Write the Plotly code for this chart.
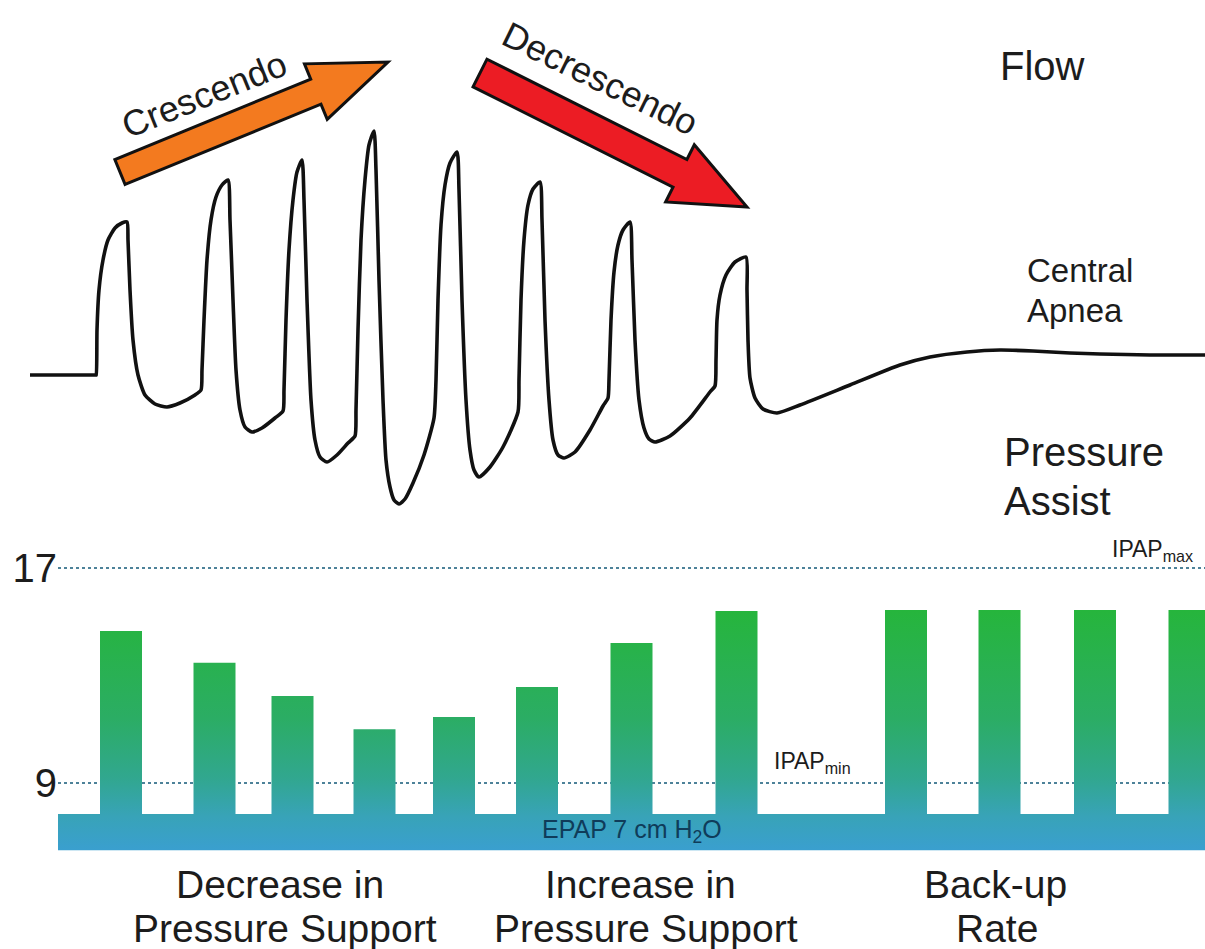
import math
import plotly.graph_objects as go

# ---------------- data ----------------
# Flow waveform (time and flow in arbitrary units, baseline = 0)
flow_time = [30, 96, 96.3,
             97, 99, 103, 108, 115, 122, 127, 128, 130, 133, 138, 145, 155, 167, 180, 195, 201,
             202, 204, 207, 211, 216, 222, 228, 230, 233, 236, 240, 245, 252, 262, 275, 283,
             284, 286, 289, 293, 297, 302, 304, 307, 311, 315, 320, 327, 337, 348, 355,
             356, 358, 361, 365, 369, 374, 376, 379, 383, 386, 390, 394, 399, 405, 413, 424, 434,
             436, 438, 441, 445, 450, 457, 459, 462, 466, 470, 474, 479, 490, 503, 518,
             519, 521, 524, 528, 533, 540, 542, 545, 549, 553, 558, 564, 575, 590, 603, 608,
             609, 611, 614, 618, 623, 630, 632, 635, 639, 644, 649, 655, 670, 690, 710, 715,
             716, 717, 720, 726, 735, 746, 747, 748, 750, 755, 763, 777,
             800, 850, 900, 930, 967, 1000, 1033, 1070, 1100, 1150, 1205]
flow_value = [0, 0, 0,
              45, 85, 115, 135, 147, 152, 153, 135, 85, 35, 0, -20, -29, -32, -28, -20, -15,
              5, 55, 115, 155, 178, 190, 195, 155, 75, 5, -35, -52, -57, -53, -43, -36,
              -15, 55, 125, 175, 203, 215, 175, 75, -25, -65, -82, -87, -80, -68, -61,
              -35, 45, 135, 195, 230, 244, 205, 95, -25, -85, -112, -125, -129, -124, -108, -80, -43,
              -5, 75, 150, 190, 212, 223, 185, 75, -25, -75, -95, -102, -92, -72, -37,
              -5, 75, 135, 170, 186, 193, 155, 55, -25, -65, -80, -83, -77, -55, -31, -23,
              -5, 55, 103, 130, 145, 153, 115, 35, -25, -53, -64, -67, -61, -43, -17, -11,
              15, 55, 80, 100, 113, 118, 85, 35, -3, -23, -34, -38,
              -30, -10, 10, 18, 23, 25, 24, 22, 21, 20, 20]

# Pressure assist (cm H2O) per breath
breath_time = [121, 214.5, 292.5, 374.5, 454, 537, 631.5, 736.5, 906, 999.5, 1095, 1189.5]
ipap_value = [14.66, 13.47, 12.24, 11.0, 11.46, 12.57, 14.21, 15.4, 15.44, 15.44, 15.44, 15.44]
epap_band = [6.5, 7.85]          # EPAP band (bottom, top)
ipap_limits = [9, 17]            # IPAPmin, IPAPmax
ipap_labels = ["9", "17"]
time_span = [58, 1212]           # start / end of the EPAP band

group_lines = [("Decrease in", "Pressure Support"),
               ("Increase in", "Pressure Support"),
               ("Back-up", "Rate")]

# ---------------- styling ----------------
W, H = 1205, 949
FONT = "Liberation Sans, Arial, Helvetica, sans-serif"
TXT = "#1c1c1c"
BAR_W = 42

# polygon of EPAP band + IPAP bars (one shape so it can share the vertical gradient)
px_, py_ = [time_span[0], time_span[0]], [epap_band[0], epap_band[1]]
for c, h in zip(breath_time, ipap_value):
    l, r = c - BAR_W / 2, c + BAR_W / 2
    px_ += [l, l, r, r]
    py_ += [epap_band[1], h, h, epap_band[1]]
px_ += [time_span[1], time_span[1], time_span[0]]
py_ += [epap_band[1], epap_band[0], epap_band[0]]

fig = go.Figure()
fig.add_trace(go.Scatter(
    x=px_, y=py_, mode="lines", fill="toself",
    fillgradient=dict(type="vertical",
                      colorscale=[[0, "#3a9fcf"], [0.14, "#38a3b8"], [0.3, "#31a78f"],
                                  [0.55, "#2bad64"], [1, "#26b53c"]],
                      start=epap_band[0], stop=max(ipap_value)),
    line=dict(width=0, color="rgba(0,0,0,0)"),
    hoverinfo="skip", showlegend=False, xaxis="x", yaxis="y"))

fig.add_trace(go.Scatter(
    x=flow_time, y=flow_value, mode="lines",
    line=dict(color="#111111", width=3.6, shape="spline", smoothing=0.6),
    hoverinfo="skip", showlegend=False, xaxis="x2", yaxis="y2"))

# axis ranges so that the drawing fills the page
p_per_px = 8 / 215.0
fig.update_layout(
    width=W, height=H, autosize=False,
    margin=dict(l=0, r=0, t=0, b=0, pad=0),
    paper_bgcolor="white", plot_bgcolor="rgba(0,0,0,0)",
    showlegend=False,
    xaxis=dict(domain=[58 / W, 1], range=[58, 1205], visible=False, fixedrange=True),
    yaxis=dict(domain=[0, 1], range=[17 - (949 - 568) * p_per_px, 17 + 568 * p_per_px],
               tickvals=ipap_limits, ticktext=ipap_labels, ticks="",
               tickfont=dict(size=40, color=TXT, family=FONT),
               showgrid=True, gridcolor="#4d8299", gridwidth=2.5, griddash="3px,3px",
               zeroline=False, showline=False, fixedrange=True),
    xaxis2=dict(domain=[0, 1], range=[0, 1205], visible=False, anchor="y2", fixedrange=True),
    yaxis2=dict(domain=[0, 1], range=[375 - 949, 375], visible=False, anchor="x2", fixedrange=True),
)


def P(x, y):
    return x / W, 1 - y / H


def ann(text, x, y, size, xanchor="center", angle=0, color=TXT):
    ax, ay = P(x, y)
    return dict(text=text, x=ax, y=ay, xref="paper", yref="paper", xanchor=xanchor,
                yanchor="middle", showarrow=False, textangle=angle,
                font=dict(size=size, color=color, family=FONT))


def arrow(tail, tip, shaft_w, head_w, head_len, color):
    dx, dy = tip[0] - tail[0], tip[1] - tail[1]
    L = math.hypot(dx, dy)
    ux, uy = dx / L, dy / L
    nx, ny = -uy, ux
    bx, by = tip[0] - ux * head_len, tip[1] - uy * head_len
    pts = [(tail[0] + nx * shaft_w / 2, tail[1] + ny * shaft_w / 2),
           (bx + nx * shaft_w / 2, by + ny * shaft_w / 2),
           (bx + nx * head_w / 2, by + ny * head_w / 2),
           tip,
           (bx - nx * head_w / 2, by - ny * head_w / 2),
           (bx - nx * shaft_w / 2, by - ny * shaft_w / 2),
           (tail[0] - nx * shaft_w / 2, tail[1] - ny * shaft_w / 2)]
    path = "M " + " L ".join("%.5f,%.5f" % P(x, y) for x, y in pts) + " Z"
    return dict(type="path", xref="paper", yref="paper", path=path, fillcolor=color,
                line=dict(color="#111111", width=3), layer="above")


shapes = [arrow((120, 172), (388, 62), 27, 60, 78, "#f37a1f"),
          arrow((480, 73), (747, 207), 31, 64, 75, "#ec1c24")]

annotations = [
    ann("Crescendo", 204, 94, 36, angle=-22),
    ann("Decrescendo", 600, 79, 36, angle=26),
    ann("Flow", 1042, 66, 40),
    ann("Central", 1025, 270, 33, xanchor="left"),
    ann("Apnea", 1025, 310, 33, xanchor="left"),
    ann("Pressure", 1002, 452, 40, xanchor="left"),
    ann("Assist", 1002, 501, 40, xanchor="left"),
    ann("IPAP<sub>max</sub>", 1195, 550, 23, xanchor="right"),
    ann("IPAP<sub>min</sub>", 772, 762, 23, xanchor="left"),
    ann("EPAP 7 cm H<sub>2</sub>O", 632, 831, 25, color="#0f3c5a"),
]
label_x = [(280, 285), (640, 646), (995, 997)]
for (l1, l2), (x1, x2) in zip(group_lines, label_x):
    annotations.append(ann(l1, x1, 884, 39))
    annotations.append(ann(l2, x2, 928, 39))

fig.update_layout(shapes=shapes, annotations=annotations)

fig.write_html("out.html", config=dict(displayModeBar=False, staticPlot=True),
               post_script="document.body.style.margin='0';document.body.style.overflow='hidden';")
